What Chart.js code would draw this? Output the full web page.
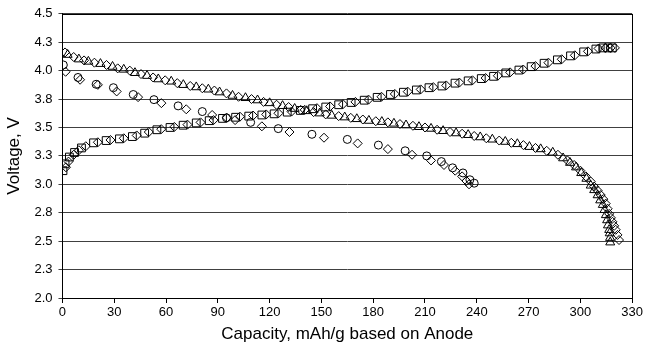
<!DOCTYPE html>
<html>
<head>
<meta charset="utf-8">
<script src="https://cdn.jsdelivr.net/npm/chart.js@4.4.1/dist/chart.umd.min.js"></script>
<style>
  html, body { margin: 0; padding: 0; background: #fff; }
  #wrap { width: 645px; height: 345px; }
</style>
</head>
<body>
<div id="wrap"><canvas id="voltChart"></canvas></div>
<script>
// charge curve, squares
const chargeSqCap = [0.3, 1.5, 4, 7, 11, 18, 25.3, 33, 40.5, 47.6, 54.7, 62.3, 69.9, 77.5, 85, 92.7, 100.3, 107.9, 115.5, 122.6, 130.2, 137.8, 144.9, 152.5, 160, 167.2, 174.8, 182.3, 190, 197.5, 205, 212.3, 219.8, 227.4, 235, 242.6, 249.7, 256.8, 264.4, 271.5, 279, 286.7, 294.3, 301.9, 309, 313, 316, 318.5];
const chargeSqV   = [3.12, 3.18, 3.24, 3.28, 3.32, 3.365, 3.385, 3.40, 3.42, 3.45, 3.48, 3.50, 3.52, 3.54, 3.56, 3.58, 3.59, 3.60, 3.61, 3.62, 3.635, 3.65, 3.665, 3.68, 3.70, 3.72, 3.74, 3.765, 3.79, 3.81, 3.83, 3.85, 3.865, 3.89, 3.91, 3.93, 3.95, 3.98, 4.005, 4.035, 4.065, 4.095, 4.13, 4.165, 4.19, 4.20, 4.20, 4.20];
// charge curve, diamonds
const chargeDiCap = [2, 3.5, 6.5, 9.5, 13.5, 20.5, 27.8, 35.5, 43, 50, 57.2, 64.8, 72.4, 80, 87.5, 95.2, 102.8, 110.4, 118, 125.1, 132.7, 140.3, 147.4, 155, 162.5, 169.7, 177.3, 184.8, 192.5, 200, 207.5, 214.8, 222.3, 229.9, 237.5, 245.1, 252.2, 259.3, 266.9, 274, 281.5, 289.2, 296.8, 304.4, 310.5, 314.5, 317.5, 320];
const chargeDiV   = [3.15, 3.20, 3.26, 3.30, 3.335, 3.37, 3.39, 3.405, 3.43, 3.46, 3.485, 3.505, 3.525, 3.545, 3.565, 3.585, 3.595, 3.605, 3.615, 3.625, 3.64, 3.655, 3.67, 3.685, 3.705, 3.725, 3.745, 3.77, 3.795, 3.815, 3.835, 3.855, 3.87, 3.895, 3.915, 3.935, 3.955, 3.985, 4.01, 4.04, 4.07, 4.10, 4.135, 4.17, 4.195, 4.20, 4.20, 4.20];

// discharge, triangles
const disTriCap = [3, 9.5, 15, 22, 29, 35.5, 42, 49, 55.5, 63, 70, 77.5, 84.5, 91, 98.5, 106, 113, 120, 127.5, 134.5, 141.5, 149, 156, 163.5, 170.5, 177.5, 185, 192, 199, 206.5, 213.5, 220.5, 228, 235, 242, 249, 256.5, 263.5, 270.5, 277, 284, 290, 294, 297.5, 300.5, 303.5, 306, 308, 310, 311.5, 313, 314, 314.8, 315.5, 316, 316.7, 317, 317.2, 317.3];
const disTriV   = [4.14, 4.10, 4.08, 4.06, 4.035, 4.01, 3.98, 3.955, 3.925, 3.905, 3.875, 3.855, 3.835, 3.81, 3.78, 3.76, 3.74, 3.715, 3.69, 3.665, 3.645, 3.625, 3.605, 3.59, 3.575, 3.56, 3.55, 3.535, 3.52, 3.505, 3.49, 3.47, 3.45, 3.435, 3.415, 3.395, 3.375, 3.355, 3.33, 3.31, 3.28, 3.23, 3.19, 3.15, 3.10, 3.05, 2.99, 2.95, 2.905, 2.86, 2.82, 2.775, 2.73, 2.685, 2.64, 2.60, 2.57, 2.53, 2.49];
// discharge, diamonds (upper)
const disDiCap = [1.5, 6.5, 12.5, 18.5, 25.5, 32, 39, 45.5, 52.5, 59.5, 66.5, 74, 81, 88, 95, 102, 109.5, 116.5, 124, 131, 138, 145.5, 152.5, 160, 167, 174, 181.5, 188.5, 195.5, 203, 210, 217, 224.5, 231.5, 238.5, 245.5, 253, 260, 267, 274, 280.5, 287, 292.5, 296.4, 300, 303.2, 306, 308, 310, 311.8, 313.3, 314.7, 315.8, 316.7, 317.7, 318.6, 319.6, 320.5, 321.5, 322.4];
const disDiV   = [4.16, 4.12, 4.09, 4.07, 4.05, 4.02, 4.00, 3.97, 3.94, 3.915, 3.89, 3.865, 3.845, 3.825, 3.80, 3.77, 3.75, 3.725, 3.70, 3.68, 3.655, 3.635, 3.615, 3.60, 3.585, 3.57, 3.555, 3.545, 3.53, 3.515, 3.50, 3.48, 3.46, 3.445, 3.425, 3.405, 3.385, 3.365, 3.345, 3.32, 3.295, 3.26, 3.21, 3.17, 3.12, 3.07, 3.025, 2.98, 2.945, 2.906, 2.87, 2.83, 2.785, 2.74, 2.705, 2.67, 2.635, 2.60, 2.555, 2.51];

// second discharge, circles
const dis2CiCap = [0.5, 9, 19.5, 29.5, 41, 53, 67, 81, 95, 109, 125, 144.5, 165, 183, 198.5, 211, 219.5, 226, 232, 236, 238.5];
const dis2CiV   = [4.05, 3.94, 3.88, 3.85, 3.79, 3.745, 3.69, 3.64, 3.585, 3.545, 3.49, 3.44, 3.395, 3.345, 3.295, 3.25, 3.20, 3.145, 3.10, 3.04, 3.01];
// second discharge, diamonds
const dis2DiCap = [1.8, 10.2, 20.5, 31.4, 43.8, 57.3, 71.7, 86.7, 100, 115.5, 131.5, 151.5, 171, 188.5, 202.5, 213.5, 221, 227.5, 231.5, 234, 235.5];
const dis2DiV   = [3.99, 3.92, 3.875, 3.817, 3.767, 3.714, 3.66, 3.61, 3.565, 3.51, 3.46, 3.41, 3.36, 3.31, 3.26, 3.21, 3.17, 3.12, 3.07, 3.03, 3.00];

const xTicks = [0, 30, 60, 90, 120, 150, 180, 210, 240, 270, 300, 330];
const yTicks = [2.0, 2.25, 2.5, 2.75, 3.0, 3.25, 3.5, 3.75, 4.0, 4.25, 4.5];
const yTickLabels = ['2.0', '2.3', '2.5', '2.8', '3.0', '3.3', '3.5', '3.8', '4.0', '4.3', '4.5'];

function pts(xs, ys) {
    return xs.map((x, i) => ({ x: x, y: ys[i] }));
}

function series(label, xs, ys, style, radius) {
    return {
        label: label,
        data: pts(xs, ys),
        showLine: false,
        pointStyle: style,
        pointRadius: radius,
        pointHoverRadius: radius,
        pointBorderWidth: 1,
        pointBorderColor: '#000',
        pointBackgroundColor: 'rgba(0,0,0,0)'
    };
}

// frame round the plot area (top and right edges)
const frame = {
    id: 'frame',
    beforeDatasetsDraw(chart) {
        const a = chart.chartArea;
        const c = chart.ctx;
        c.save();
        c.strokeStyle = '#000';
        c.lineWidth = 1;
        c.strokeRect(Math.round(a.left) + 0.5, Math.round(a.top) + 0.5, Math.round(a.right - a.left), Math.round(a.bottom - a.top));
        c.restore();
    }
};

const font = "'Liberation Sans', Arial, Helvetica, sans-serif";

new Chart(document.getElementById('voltChart'), {
    type: 'scatter',
    data: {
        datasets: [
            series('Charge (square)', chargeSqCap, chargeSqV, 'rect', 5.5),
            series('Charge (diamond)', chargeDiCap, chargeDiV, 'rectRot', 4.5),
            series('Discharge (triangle)', disTriCap, disTriV, 'triangle', 5.2),
            series('Discharge (diamond)', disDiCap, disDiV, 'rectRot', 4.5),
            series('Discharge 2 (circle)', dis2CiCap, dis2CiV, 'circle', 4),
            series('Discharge 2 (diamond)', dis2DiCap, dis2DiV, 'rectRot', 4.5)
        ]
    },
    plugins: [frame],
    options: {
        responsive: true,
        maintainAspectRatio: false,
        animation: false,
        layout: { padding: { left: 4, right: 11, top: 12, bottom: 0 } },
        plugins: {
            legend: { display: false },
            tooltip: { enabled: false }
        },
        scales: {
            x: {
                type: 'linear',
                min: 0,
                max: 330,
                afterBuildTicks: axis => { axis.ticks = xTicks.map(v => ({ value: v })); },
                ticks: {
                    color: '#000',
                    font: { family: font, size: 13 },
                    padding: 2,
                    maxRotation: 0
                },
                grid: { drawOnChartArea: false, color: '#000', tickLength: 5 },
                border: { color: '#000', width: 1 },
                title: {
                    display: true,
                    text: 'Capacity, mAh/g based on Anode',
                    color: '#000',
                    font: { family: font, size: 17 },
                    padding: { top: 2, bottom: 0 }
                }
            },
            y: {
                type: 'linear',
                min: 2,
                max: 4.5,
                afterBuildTicks: axis => { axis.ticks = yTicks.map(v => ({ value: v })); },
                ticks: {
                    color: '#000',
                    font: { family: font, size: 13 },
                    padding: 6,
                    callback: (v, i) => yTickLabels[i]
                },
                grid: { color: '#404040', lineWidth: 1, tickLength: 4 },
                border: { color: '#000', width: 1 },
                title: {
                    display: true,
                    text: 'Voltage, V',
                    color: '#000',
                    font: { family: font, size: 17 },
                    padding: { top: 0, bottom: 4 }
                }
            }
        }
    }
});
</script>
</body>
</html>
